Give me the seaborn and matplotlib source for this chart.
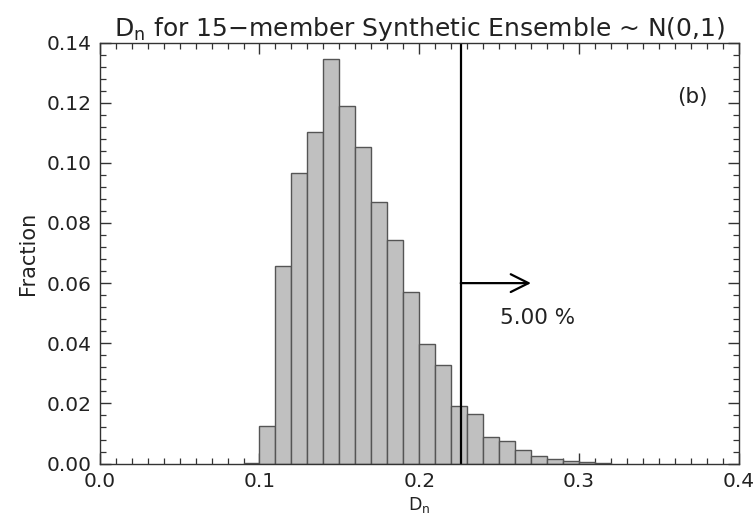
import numpy as np
import pandas as pd
import seaborn as sns
import matplotlib
matplotlib.use("Agg")
import matplotlib.pyplot as plt
from matplotlib.ticker import MultipleLocator, FormatStrFormatter

# Data (bin width 0.01)
bin_left = [0.09, 0.10, 0.11, 0.12, 0.13, 0.14, 0.15, 0.16, 0.17, 0.18, 0.19,
            0.20, 0.21, 0.22, 0.23, 0.24, 0.25, 0.26, 0.27, 0.28, 0.29, 0.30, 0.31]
fraction = [0.0003, 0.0124, 0.0657, 0.0966, 0.1102, 0.1345, 0.1188, 0.1054, 0.0871,
            0.0743, 0.0571, 0.0396, 0.0328, 0.0192, 0.0164, 0.0088, 0.0074, 0.0044,
            0.0024, 0.0015, 0.0010, 0.0005, 0.0002]
threshold = 0.226
arrow_end = 0.270
arrow_y = 0.06
pct_label = "5.00 %"
panel_label = "(b)"
title = r"D$_\mathregular{n}$ for 15$-$member Synthetic Ensemble ~ N(0,1)"
xlabel = r"D$_\mathregular{n}$"
ylabel = "Fraction"

df = pd.DataFrame({"x": [b + 0.005 for b in bin_left], "w": fraction})
edges = [round(0.09 + 0.01 * i, 3) for i in range(len(bin_left) + 1)]

sns.set_style("ticks")
plt.rcParams["font.family"] = ["DejaVu Sans"]

fig = plt.figure(figsize=(7.56, 5.25), dpi=100)
ax = fig.add_axes([0.132, 0.117, 0.845, 0.802])

sns.histplot(data=df, x="x", weights="w", bins=edges, stat="count",
             color="#c0c0c0", edgecolor="#555555", linewidth=1.0, alpha=1.0, ax=ax)

ax.set_xlim(0.0, 0.4)
ax.set_ylim(0.0, 0.14)
ax.xaxis.set_major_locator(MultipleLocator(0.1))
ax.xaxis.set_minor_locator(MultipleLocator(0.01))
ax.yaxis.set_major_locator(MultipleLocator(0.02))
ax.yaxis.set_minor_locator(MultipleLocator(0.004))
ax.xaxis.set_major_formatter(FormatStrFormatter("%.1f"))
ax.yaxis.set_major_formatter(FormatStrFormatter("%.2f"))
ax.tick_params(which="both", direction="in", top=True, right=True, color="#333333")
ax.tick_params(which="major", length=8, width=1.0, labelsize=14.5, pad=6,
               labelcolor="#222222")
ax.tick_params(which="minor", length=4.5, width=0.9)
for s in ax.spines.values():
    s.set_color("#333333")
    s.set_linewidth(1.0)

ax.axvline(threshold, color="black", linewidth=1.6)
ax.annotate("", xy=(arrow_end, arrow_y), xytext=(threshold, arrow_y),
            arrowprops=dict(arrowstyle="->", color="black", lw=1.6,
                            mutation_scale=32, shrinkA=0, shrinkB=0))
ax.text(0.2505, 0.0484, pct_label, fontsize=15.5, va="center", ha="left",
        color="#222222")
ax.text(0.371, 0.122, panel_label, fontsize=15.5, va="center", ha="center",
        color="#222222")

ax.set_title(title, fontsize=18, pad=4, color="#222222")
ax.set_xlabel(xlabel, fontsize=12.5, labelpad=3, color="#222222")
ax.set_ylabel(ylabel, fontsize=15, labelpad=6, color="#222222")

fig.savefig("out.png", dpi=100)
